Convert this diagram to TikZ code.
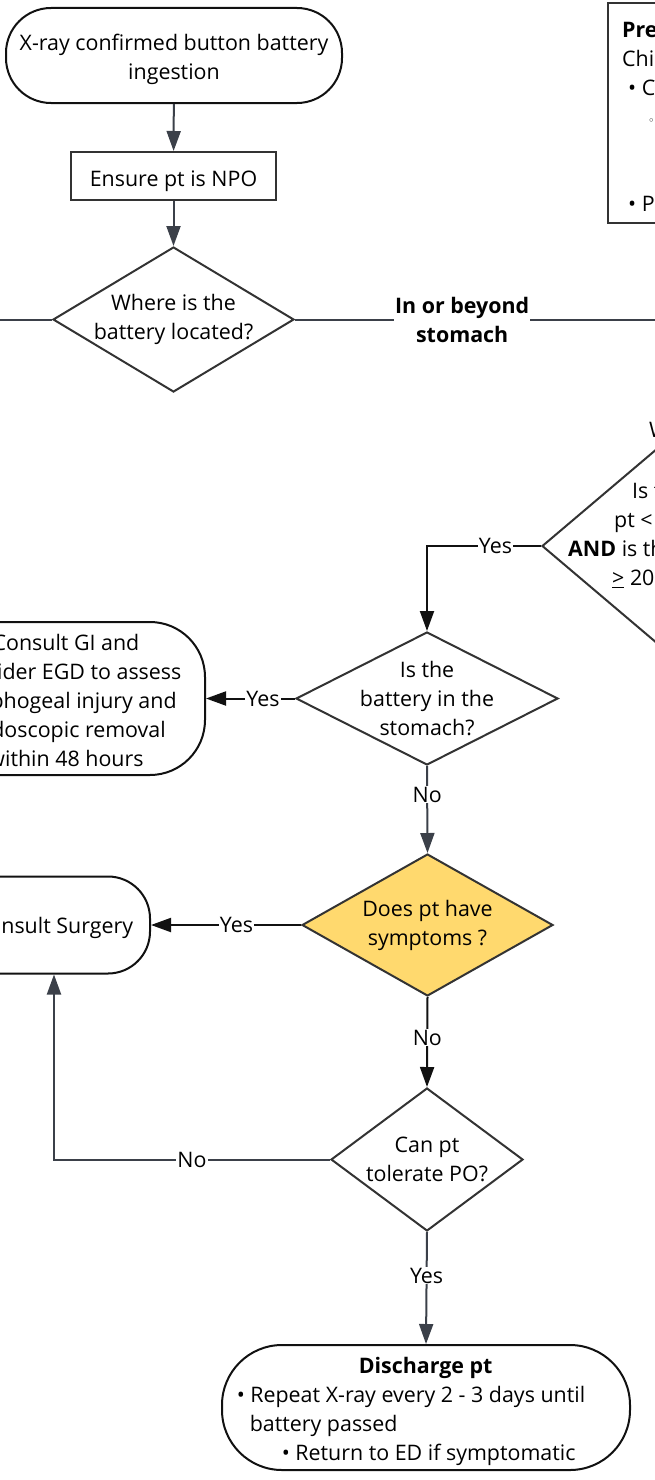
\documentclass[tikz,border=0pt]{standalone}
\usepackage{fontspec}
\setmainfont{Open Sans}
\newfontfamily\symfont{DejaVu Sans}
\usetikzlibrary{positioning}
\usetikzlibrary{shapes.geometric}
\usetikzlibrary{arrows.meta}

\definecolor{ink}{HTML}{111111}
\definecolor{edgegrey}{HTML}{333333}
\definecolor{linegrey}{HTML}{3B4049}
\definecolor{caution}{HTML}{FFD96E}

\begin{document}
\begin{tikzpicture}[x=1pt,y=-1pt,
    font=\fontsize{21.4}{29}\selectfont,
    term/.style={draw=ink,line width=2pt,rounded corners=#1,inner sep=0pt},
    proc/.style={draw=edgegrey,line width=2pt,inner sep=0pt},
    decision/.style={diamond,draw=edgegrey,line width=2pt,inner sep=0pt},
    flow/.style={draw=linegrey,line width=2pt,-{Triangle[length=20pt,width=14pt]}},
    flowk/.style={draw=ink,line width=2pt,-{Triangle[length=20pt,width=14pt]}},
    plain/.style={draw=linegrey,line width=2pt},
    tag/.style={fill=white,inner sep=1pt},
    tagb/.style={fill=white,inner sep=1pt,align=center,font=\fontsize{21.4}{29}\selectfont\bfseries}]
  \useasboundingbox (0,0) rectangle (655,1480);
  \clip (0,0) rectangle (655,1480);

  \node[term=45pt,minimum width=336pt,minimum height=95pt,
    label={[align=center,yshift=-4pt]center:X-ray confirmed button battery\\ingestion}] (start) at (174,55.5) {};
  \node[proc,minimum width=205pt,minimum height=48pt,
    label={[yshift=-5pt]center:Ensure pt is NPO}] (npo) at (173.5,176) {};
  \node[decision,minimum width=241pt,minimum height=145pt,
    label={[align=center]center:Where is the\\battery located?}] (loc) at (173.5,319.5) {};
  \coordinate (locL) at (-5,319.5);
  \coordinate (locR) at (660,319.5);

  % box at the top right, mostly outside the page
  \node[proc,minimum width=300pt,minimum height=220pt,anchor=north west] (prec) at (607,2) {};
  \node[anchor=north west,align=left,inner sep=0pt] (prectext) at (622,22)
    {\textbf{Pre}\\Chi\\\hspace*{6pt}• C\\\hspace*{26pt}{\symfont\fontsize{11}{29}\selectfont ◦}\\\mbox{}\\\mbox{}\\\hspace*{6pt}• P};

  % size question, cut by the right edge
  \node[decision,minimum width=316pt,minimum height=268pt] (size) at (700,546) {};
  \node[anchor=west,align=left,inner sep=0pt] (sizeq) at (568,535.5)
    {\hspace*{64pt}Is t\\\hspace*{46pt}pt <\\\textbf{AND} is th\\\hspace*{44pt}\underline{>} 20};
  \node[anchor=west,inner sep=0pt] (wfrag) at (649,430) {W};

  \node[decision,minimum width=262pt,minimum height=133pt,
    label={[align=center]center:Is the\\battery in the\\stomach?}] (stom) at (427,698.5) {};
  \node[term=55pt,minimum width=270pt,minimum height=153pt,
    label={[align=center,xshift=-4pt,yshift=-2pt]center:Consult GI and\\consider EGD to assess\\esophogeal injury and\\endoscopic removal\\within 48 hours}] (gi) at (70,698.5) {};
  \node[decision,fill=caution,minimum width=251pt,minimum height=142pt,
    label={[align=center]center:Does pt have\\symptoms ?}] (symp) at (427.5,925) {};
  \node[term=42pt,minimum width=192pt,minimum height=97pt,
    label={[yshift=-3pt]center:Consult Surgery}] (surg) at (54,925) {};
  \node[decision,minimum width=192pt,minimum height=143pt,
    label={[align=center]center:Can pt\\tolerate PO?}] (po) at (427,1159.5) {};
  \node[term=60pt,minimum width=408pt,minimum height=125pt,
    label={[align=left,xshift=-15pt,yshift=-4pt]center:\hspace*{122pt}\textbf{Discharge pt}\\• Repeat X-ray every 2 - 3 days until\\\hspace*{13pt}battery passed\\\hspace*{45pt}• Return to ED if symptomatic}] (dis) at (426,1407.5) {};

  \draw[flow] (start) -- (npo);
  \draw[flow] (npo) -- (loc.north);
  \draw[plain] (loc.west) -- (locL);
  \draw[plain] (loc.east) -- node[tagb,pos=0.458]{In or beyond\\stomach} (locR);
  \draw[flowk] (size.west) -| node[tag,pos=0.2]{Yes} (stom.north);
  \draw[flowk] (stom.west) -- node[tag,pos=0.36]{Yes} (gi.east);
  \draw[flow] (stom.south) -- node[tag,pos=0.33]{No} (symp.north);
  \draw[flowk] (symp.west) -- node[tag,pos=0.43]{Yes} (surg.east);
  \draw[flowk] (symp.south) -- node[tag,pos=0.45]{No} (po.north);
  \draw[flow] (po.west) -| node[tag,pos=0.25]{No} (surg.south);
  \draw[flow] (po.south) -- node[tag,pos=0.39]{Yes} (dis.north);
\end{tikzpicture}
\end{document}
